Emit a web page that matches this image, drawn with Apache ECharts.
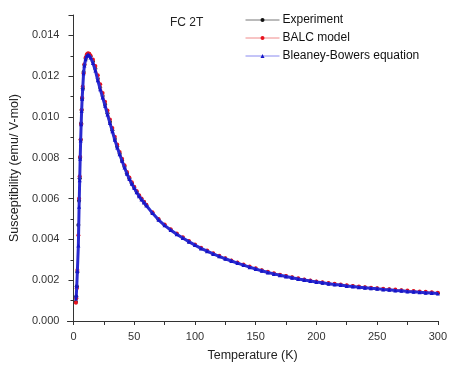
<!DOCTYPE html>
<html><head><meta charset="utf-8">
<script src="https://cdn.jsdelivr.net/npm/echarts@6/dist/echarts.min.js"></script>
<style>html,body{margin:0;padding:0;background:#fff}#c{width:450px;height:367px}</style>
</head><body><div id="c"></div>
<script>
var temperature = [2, 2.3, 2.7, 3.2, 4.0, 4.6, 5.1, 5.5, 5.9, 6.3, 6.7, 7.1, 7.6, 8.3, 9, 10, 11, 12, 13, 14,
  16, 18, 20, 22, 24, 26, 28, 30, 32, 34, 36, 38, 40, 42, 44, 46, 48, 50, 52, 54, 56, 58, 60,
  65, 70, 75, 80, 85, 90, 95, 100, 105, 110, 115, 120, 125, 130, 135, 140, 145, 150, 155, 160, 165, 170,
  175, 180, 185, 190, 195, 200, 205, 210, 215, 220, 225, 230, 235, 240, 245, 250, 255, 260, 265, 270,
  275, 280, 285, 290, 295, 300];
var experiment = [0.00093, 0.00120, 0.00170, 0.00240, 0.00470, 0.00590, 0.00700, 0.00800, 0.00888, 0.00969, 0.01034, 0.01091, 0.01140, 0.01221, 0.01255, 0.01285, 0.01303, 0.01310, 0.01306, 0.01298,
  0.01272, 0.01237, 0.01188, 0.01143, 0.01103, 0.01061, 0.01018, 0.00976, 0.00935, 0.00892, 0.00855, 0.00820, 0.00787, 0.00756, 0.00724, 0.00698, 0.00675, 0.00654, 0.00633, 0.00614, 0.00598, 0.00583, 0.00568,
  0.00530, 0.00497, 0.00470, 0.00447, 0.00426, 0.00408, 0.00390, 0.00373, 0.00357, 0.00343, 0.00330, 0.00318, 0.00306, 0.00295, 0.00285, 0.00275, 0.00265, 0.00256, 0.00247, 0.00239, 0.00232, 0.00225,
  0.00219, 0.00213, 0.00207, 0.00202, 0.00197, 0.00192, 0.00188, 0.00184, 0.00180, 0.00177, 0.00173, 0.00170, 0.00167, 0.00164, 0.00161, 0.00159, 0.00156, 0.00154, 0.00151, 0.00149,
  0.00146, 0.00144, 0.00142, 0.00140, 0.00138, 0.00136];
var balcModel = [0.00090, 0.00112, 0.00160, 0.00250, 0.00420, 0.00600, 0.00710, 0.00805, 0.00890, 0.00965, 0.01035, 0.01095, 0.01150, 0.01215, 0.01258, 0.01292, 0.01308, 0.01312, 0.01310, 0.01302,
  0.01282, 0.01250, 0.01205, 0.01160, 0.01118, 0.01075, 0.01032, 0.00988, 0.00946, 0.00903, 0.00865, 0.00829, 0.00795, 0.00763, 0.00731, 0.00704, 0.00680, 0.00658, 0.00637, 0.00617, 0.00600, 0.00585, 0.00570,
  0.00533, 0.00500, 0.00473, 0.00450, 0.00429, 0.00410, 0.00392, 0.00375, 0.00359, 0.00345, 0.00332, 0.00320, 0.00308, 0.00297, 0.00287, 0.00277, 0.00267, 0.00258, 0.00249, 0.00241, 0.00234, 0.00227,
  0.00221, 0.00215, 0.00209, 0.00204, 0.00199, 0.00194, 0.00190, 0.00186, 0.00182, 0.00179, 0.00175, 0.00172, 0.00169, 0.00166, 0.00163, 0.00161, 0.00158, 0.00156, 0.00154, 0.00151,
  0.00149, 0.00147, 0.00145, 0.00143, 0.00141, 0.00139];
var bleaneyBowers = [0.00110, 0.00125, 0.00172, 0.00245, 0.00370, 0.00560, 0.00690, 0.00795, 0.00885, 0.00965, 0.01030, 0.01088, 0.01140, 0.01215, 0.01252, 0.01283, 0.01300, 0.01307, 0.01302, 0.01292,
  0.01265, 0.01228, 0.01180, 0.01136, 0.01096, 0.01055, 0.01012, 0.00970, 0.00930, 0.00888, 0.00851, 0.00817, 0.00784, 0.00753, 0.00722, 0.00696, 0.00673, 0.00652, 0.00631, 0.00612, 0.00596, 0.00581, 0.00566,
  0.00529, 0.00496, 0.00469, 0.00446, 0.00425, 0.00407, 0.00389, 0.00372, 0.00356, 0.00342, 0.00329, 0.00317, 0.00305, 0.00294, 0.00284, 0.00274, 0.00264, 0.00255, 0.00246, 0.00238, 0.00231, 0.00224,
  0.00218, 0.00212, 0.00206, 0.00201, 0.00196, 0.00191, 0.00187, 0.00183, 0.00179, 0.00176, 0.00172, 0.00169, 0.00166, 0.00163, 0.00160, 0.00158, 0.00155, 0.00153, 0.00150, 0.00148,
  0.00145, 0.00143, 0.00141, 0.00139, 0.00137, 0.00135];
var xTickLabels = [0, 50, 100, 150, 200, 250, 300];
var xTicks = [0, 25, 50, 75, 100, 125, 150, 175, 200, 225, 250, 275, 300];
var yTickLabels = [0, 0.002, 0.004, 0.006, 0.008, 0.010, 0.012, 0.014];
var seriesNames = ['Experiment', 'BALC model', 'Bleaney-Bowers equation'];

function pairs(vals) { return temperature.map(function (t, i) { return [t, vals[i]]; }); }

var FONT = '"Liberation Sans", Arial, sans-serif';
var chart = echarts.init(document.getElementById('c'), null, { renderer: 'canvas' });
chart.setOption({
  animation: false,
  backgroundColor: '#fff',
  textStyle: { fontFamily: FONT },
  title: { text: 'FC 2T', left: 170, top: 17, padding: 0, textStyle: { fontSize: 12, fontWeight: 'normal', color: '#222', fontFamily: FONT } },
  legend: {
    orient: 'vertical', left: 245, top: 14, padding: 0, itemWidth: 34, itemHeight: 5, itemGap: 6,
    textStyle: { fontSize: 12, color: '#111', fontFamily: FONT, padding: [0, 0, 0, -2] },
    data: [
      { name: seriesNames[0], lineStyle: { width: 1, color: '#777' }, itemStyle: { color: '#111' } },
      { name: seriesNames[1], lineStyle: { width: 1, color: '#f08a8a' }, itemStyle: { color: '#e8121e' } },
      { name: seriesNames[2], lineStyle: { width: 1, color: '#8a8af0' }, itemStyle: { color: '#1515c8' } }
    ]
  },
  grid: { left: 67, right: 9, top: 15, bottom: 45, containLabel: false },
  xAxis: {
    type: 'value', min: -5, max: 300,
    name: 'Temperature (K)', nameLocation: 'middle', nameGap: 28,
    nameTextStyle: { fontSize: 12.5, color: '#222', fontFamily: FONT },
    axisLine: { show: true, lineStyle: { color: '#333', width: 1 } },
    axisTick: { show: true, inside: false, length: 4, customValues: xTicks, lineStyle: { color: '#333' } },
    axisLabel: { customValues: xTickLabels, fontSize: 11, color: '#333', margin: 10, fontFamily: FONT },
    splitLine: { show: false }
  },
  yAxis: {
    type: 'value', min: 0, max: 0.015, interval: 0.002,
    name: 'Susceptibility (emu/ V-mol)', nameLocation: 'middle', nameGap: 45,
    nameTextStyle: { fontSize: 12.5, color: '#222', fontFamily: FONT },
    axisLine: { show: true, lineStyle: { color: '#333', width: 1 } },
    axisTick: { show: true, inside: false, length: 5, lineStyle: { color: '#333' } },
    minorTick: { show: true, splitNumber: 2, length: 3, lineStyle: { color: '#333' } },
    axisLabel: { customValues: yTickLabels, fontSize: 11, color: '#333', margin: 8, fontFamily: FONT,
      formatter: function (v) { return v.toFixed(3); } },
    splitLine: { show: false }
  },
  series: [
    { name: seriesNames[0], type: 'line', data: pairs(experiment), symbol: 'circle', symbolSize: 4,
      itemStyle: { color: '#111122' }, lineStyle: { color: '#666', width: 1 }, z: 2 },
    { name: seriesNames[1], type: 'line', data: pairs(balcModel), symbol: 'circle', symbolSize: 4,
      itemStyle: { color: '#e8121e' }, lineStyle: { color: '#f07070', width: 1 }, z: 3 },
    { name: seriesNames[2], type: 'line', data: pairs(bleaneyBowers), symbol: 'triangle', symbolSize: 4,
      itemStyle: { color: '#1515c8' }, lineStyle: { color: '#2a2ad0', width: 3 }, z: 4 }
  ]
});
</script></body></html>
